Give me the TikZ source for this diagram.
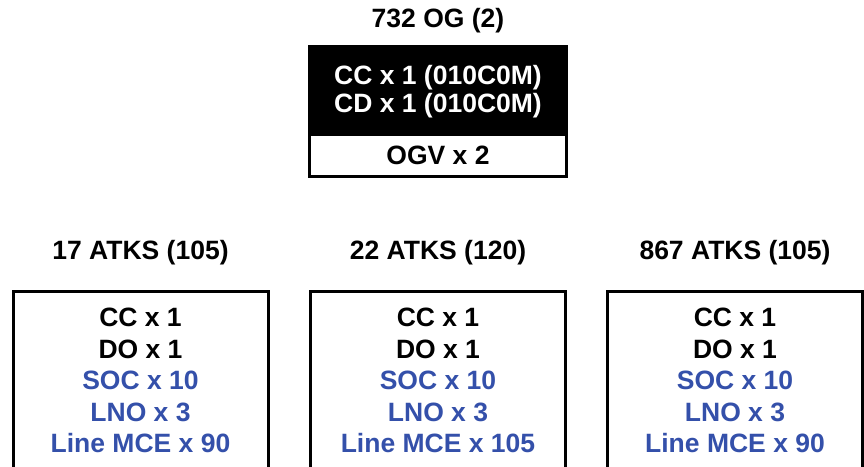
\documentclass[tikz,border=0pt]{standalone}
\usepackage{fontspec}
\setmainfont{Liberation Sans}
\usepackage{xcolor}
\usetikzlibrary{positioning}
\definecolor{listblue}{RGB}{52,80,170}

\begin{document}
\begin{tikzpicture}[x=1pt, y=-1pt,
  unittitle/.style={inner sep=0pt, font=\fontsize{26.5}{28}\selectfont\bfseries},
  unitbox/.style={draw=black, line width=3pt, minimum width=255pt, minimum height=200pt, inner sep=0pt},
  itemlist/.style={align=center, inner sep=0pt, font=\fontsize{26.5}{31.5}\selectfont\bfseries}]
  % Canvas
  \useasboundingbox (0,0) rectangle (864,466);
  \clip (0,0) rectangle (864,466);
  \fill[white] (0,0) rectangle (864,466);

  % Group box on top
  \node[draw=black, fill=black, line width=3pt, minimum width=257pt, minimum height=84.5pt,
        text=white, align=center, inner sep=0pt, font=\fontsize{26.5}{28}\selectfont\bfseries]
        (og) at (438,88.75) {\raisebox{0pt}[\dimexpr\height+5pt]{CC x 1 (010C0M)}\\CD x 1 (010C0M)};
  \node[draw=black, line width=3pt, minimum width=257pt, minimum height=42.5pt,
        inner sep=0pt, font=\fontsize{26.5}{28}\selectfont\bfseries, anchor=north]
        (ogv) at (og.south) {OGV x 2};
  \node[unittitle, above=12pt of og] (ogtitle) {732 OG (2)};

  % Squadron boxes
  \node[unitbox, anchor=north] (atk17) at (140.5,290) {};
  \node[unitbox, anchor=north] (atk22) at (438,290) {};
  \node[unitbox, anchor=north] (atk867) at (735,290) {};

  \node[unittitle, above=25pt of atk17] (t17) {17 ATKS (105)};
  \node[unittitle, above=25pt of atk22] (t22) {22 ATKS (120)};
  \node[unittitle, above=25pt of atk867] (t867) {867 ATKS (105)};

  \node[itemlist, anchor=north] (l17) at ([yshift=-18pt]atk17.north)
    {CC x 1\\DO x 1\\\textcolor{listblue}{SOC x 10}\\\textcolor{listblue}{LNO x 3}\\\textcolor{listblue}{Line MCE x 90}};
  \node[itemlist, anchor=north] (l22) at ([yshift=-18pt]atk22.north)
    {CC x 1\\DO x 1\\\textcolor{listblue}{SOC x 10}\\\textcolor{listblue}{LNO x 3}\\\textcolor{listblue}{Line MCE x 105}};
  \node[itemlist, anchor=north] (l867) at ([yshift=-18pt]atk867.north)
    {CC x 1\\DO x 1\\\textcolor{listblue}{SOC x 10}\\\textcolor{listblue}{LNO x 3}\\\textcolor{listblue}{Line MCE x 90}};
\end{tikzpicture}
\end{document}
